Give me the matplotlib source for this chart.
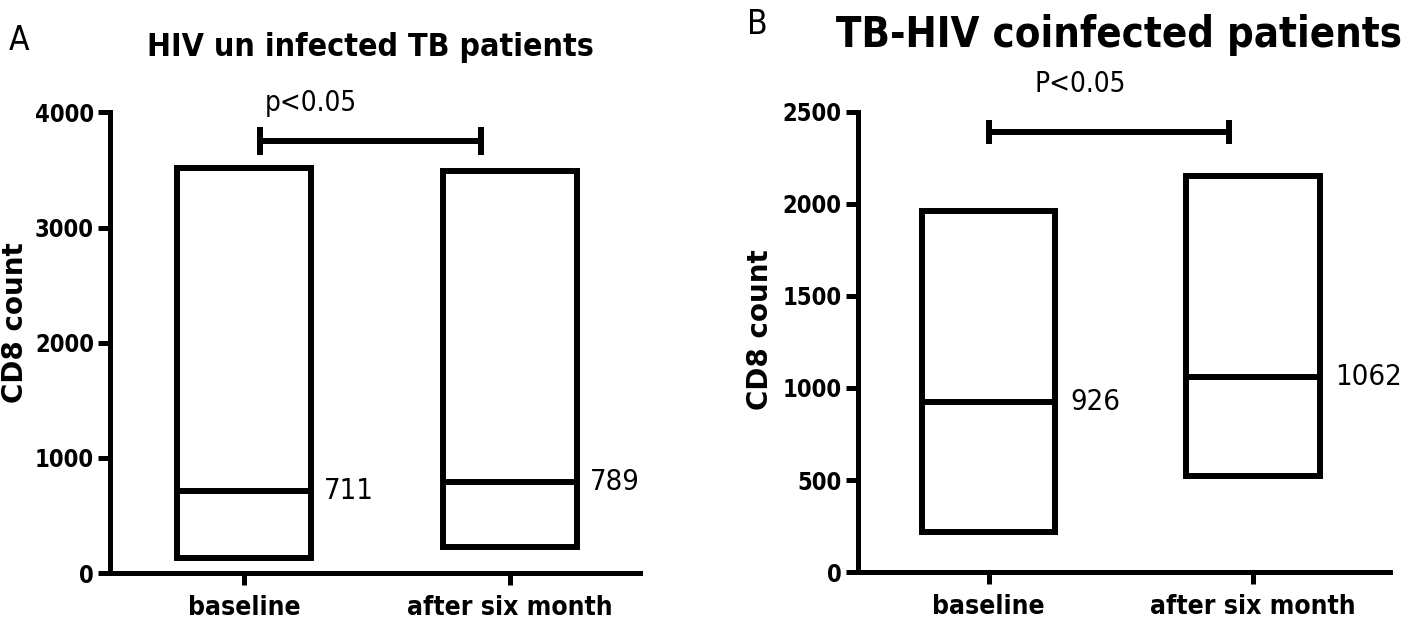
import matplotlib.pyplot as plt
import numpy as np

groups = ["baseline", "after six month"]

# panel A: HIV un infected TB patients
a_low = [130, 230]
a_high = [3520, 3490]
a_median = [711, 789]

# panel B: TB-HIV coinfected patients
b_low = [215, 520]
b_high = [1960, 2150]
b_median = [926, 1062]

plt.rcParams['font.family'] = ['DejaVu Sans']
plt.rcParams['font.stretch'] = 'condensed'

fig = plt.figure(figsize=(14.13, 6.2), dpi=100)
axA = fig.add_axes([0.0778, 0.0758, 0.375, 0.743])
axB = fig.add_axes([0.607, 0.0774, 0.377, 0.742])


def draw_panel(ax, low, high, med, yticks, xlim, ylim, lab_dx, ylab_x, ylab_y):
    x = np.arange(len(groups))
    low = np.array(low)
    high = np.array(high)
    ax.bar(x, high - low, bottom=low, width=0.505, fill=False,
           edgecolor='black', linewidth=4.3, joinstyle='miter')
    ax.hlines(med, x - 0.2525, x + 0.2525, color='black', linewidth=4.3)
    for xi, m in zip(x, med):
        ax.text(xi + lab_dx, m, str(m), fontsize=21, va='center', ha='left')
    ax.set_xlim(xlim)
    ax.set_ylim(ylim)
    ax.set_xticks(x)
    ax.set_xticklabels(groups, fontsize=19, fontweight='bold')
    ax.set_yticks(yticks)
    ax.set_yticklabels([str(t) for t in yticks], fontsize=17, fontweight='bold')
    ax.set_ylabel("CD8 count", fontsize=20, fontweight='bold',
                  fontstretch='normal')
    ax.yaxis.set_label_coords(ylab_x, ylab_y)
    for s in ['top', 'right']:
        ax.spines[s].set_visible(False)
    for s in ['left', 'bottom']:
        ax.spines[s].set_linewidth(3.6)
        ax.spines[s].set_capstyle('projecting')
    ax.tick_params(axis='both', width=3.6, length=8.5, pad=3)
    ax.tick_params(axis='x', pad=7)


draw_panel(axA, a_low, a_high, a_median, [0, 1000, 2000, 3000, 4000],
           (-0.504, 1.489), (0, 4000), 0.30, -0.152, 0.544)
draw_panel(axB, b_low, b_high, b_median, [0, 500, 1000, 1500, 2000, 2500],
           (-0.496, 1.52), (0, 2500), 0.31, -0.158, 0.526)

# significance bars
axA.plot([0.06, 0.89], [3750, 3750], color='black', linewidth=4.3, clip_on=False)
axA.vlines([0.06, 0.89], 3630, 3870, color='black', linewidth=4.3, clip_on=False)
axA.text(0.08, 4080, "p<0.05", fontsize=20, ha='left', va='center', clip_on=False)

axB.plot([0.0, 0.91], [2390, 2390], color='black', linewidth=4.3, clip_on=False)
axB.vlines([0.0, 0.91], 2325, 2455, color='black', linewidth=4.3, clip_on=False)
axB.text(0.345, 2650, "P<0.05", fontsize=20, ha='center', va='center', clip_on=False)

fig.text(0.262, 0.924, "HIV un infected TB patients", fontsize=23,
         fontweight='bold', ha='center', va='center')
fig.text(0.792, 0.944, "TB-HIV coinfected patients", fontsize=30,
         fontweight='bold', ha='center', va='center')
fig.text(0.006, 0.935, "A", fontsize=24, ha='left', va='center')
fig.text(0.529, 0.96, "B", fontsize=24, ha='left', va='center')

fig.savefig("out.png", dpi=100)
